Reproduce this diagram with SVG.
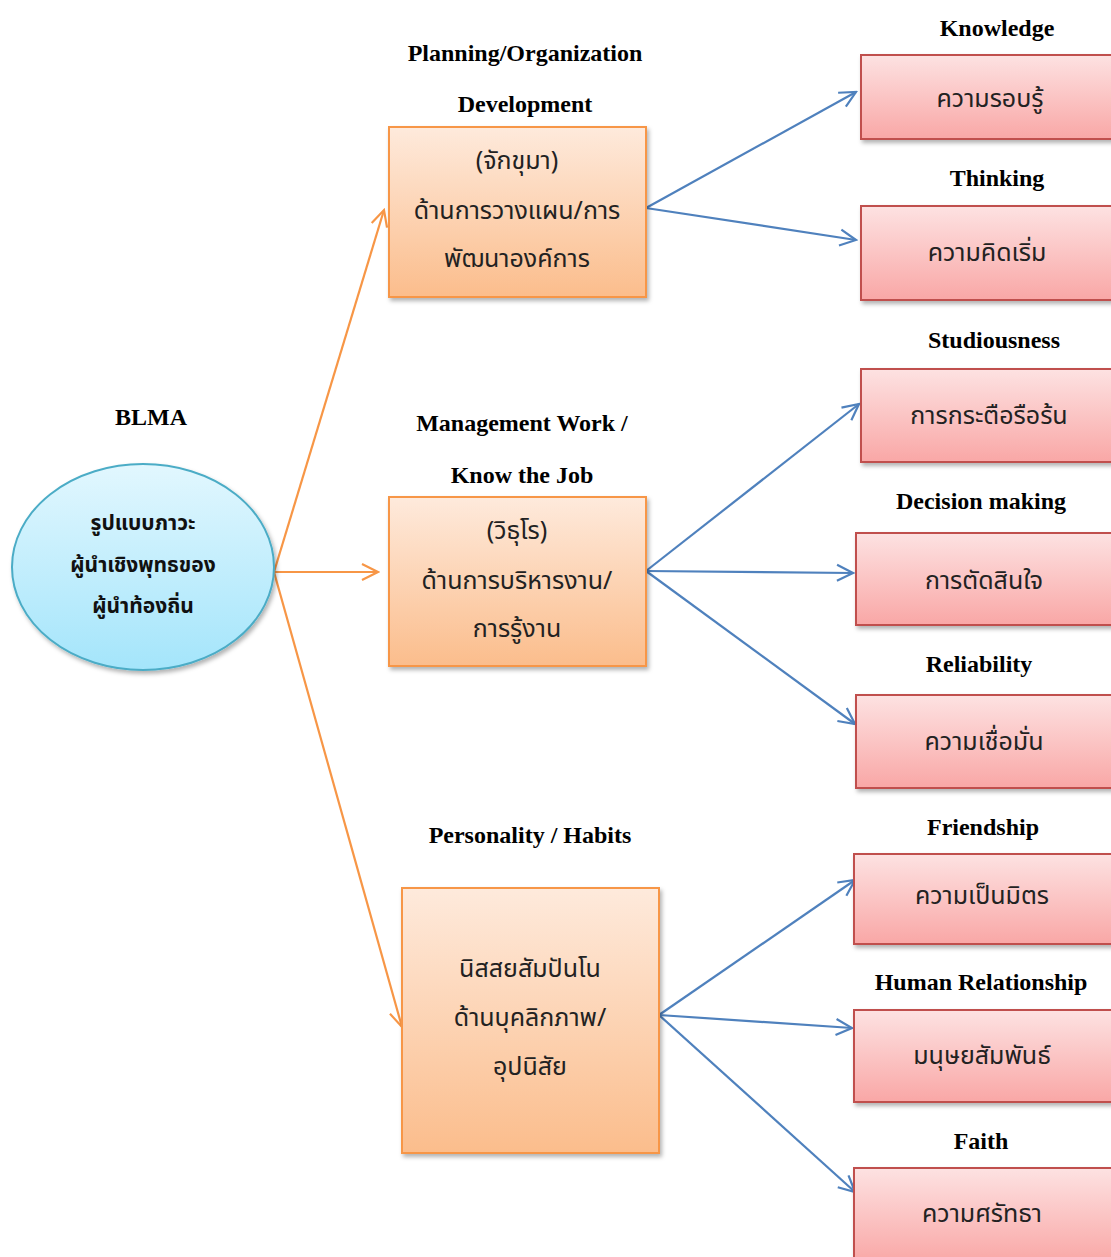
<svg xmlns="http://www.w3.org/2000/svg" width="1111" height="1257" viewBox="0 0 1111 1257">
<style>
.lbl{font-family:"Liberation Serif","Times New Roman",serif;font-weight:bold;font-size:24px;fill:#000;text-anchor:middle}
.th{font-family:"Noto Sans","Noto Sans Thai",sans-serif;font-size:25px;fill:#222;text-anchor:middle}
.thb{font-family:"Noto Sans","Noto Sans Thai",sans-serif;font-size:21px;font-weight:bold;fill:#111;text-anchor:middle}
.ob{fill:url(#og);stroke:#f79646;stroke-width:2;filter:url(#sh)}
.pb{fill:url(#pg);stroke:#c0504d;stroke-width:2;filter:url(#sh)}
.oc{stroke:#f79646;stroke-width:2.2;fill:none;marker-end:url(#ao)}
.bc{stroke:#4f81bd;stroke-width:2.2;fill:none;marker-end:url(#ab)}
</style>
<defs>
<linearGradient id="og" x1="0" y1="0" x2="0" y2="1"><stop offset="0" stop-color="#feeadc"/><stop offset="1" stop-color="#fbbd8c"/></linearGradient>
<linearGradient id="pg" x1="0" y1="0" x2="0" y2="1"><stop offset="0" stop-color="#fde2e2"/><stop offset="1" stop-color="#f9a7a6"/></linearGradient>
<linearGradient id="eg" x1="0" y1="0" x2="0" y2="1"><stop offset="0" stop-color="#e2f7fe"/><stop offset="1" stop-color="#a4e5fb"/></linearGradient>
<filter id="sh" x="-10%" y="-10%" width="125%" height="125%"><feDropShadow dx="2" dy="3" stdDeviation="2" flood-color="#000" flood-opacity="0.3"/></filter>
<marker id="ao" viewBox="0 0 20 20" refX="18" refY="10" markerWidth="20" markerHeight="20" markerUnits="userSpaceOnUse" orient="auto"><path d="M2,2 L18,10 L2,18" fill="none" stroke="#f79646" stroke-width="2.2"/></marker>
<marker id="ab" viewBox="0 0 20 20" refX="18" refY="10" markerWidth="20" markerHeight="20" markerUnits="userSpaceOnUse" orient="auto"><path d="M2,2 L18,10 L2,18" fill="none" stroke="#4f81bd" stroke-width="2.2"/></marker>
</defs>
<rect width="1111" height="1257" fill="#fff"/>

<g id="connectors">
<line class="oc" x1="274" y1="572" x2="384" y2="210"/>
<line class="oc" x1="274" y1="572" x2="378" y2="572"/>
<line class="oc" x1="274" y1="572" x2="402" y2="1027"/>
<line class="bc" x1="646" y1="208" x2="856" y2="92"/>
<line class="bc" x1="646" y1="208" x2="856" y2="240"/>
<line class="bc" x1="646" y1="571" x2="859" y2="404"/>
<line class="bc" x1="646" y1="571" x2="853" y2="573"/>
<line class="bc" x1="646" y1="571" x2="855" y2="724"/>
<line class="bc" x1="659" y1="1015" x2="855" y2="880"/>
<line class="bc" x1="659" y1="1015" x2="852" y2="1028"/>
<line class="bc" x1="659" y1="1015" x2="855" y2="1192"/>
</g>

<g id="blma">
<text class="lbl" x="151" y="425">BLMA</text>
<ellipse cx="143" cy="567" rx="131" ry="103" fill="url(#eg)" stroke="#4bacc6" stroke-width="2" filter="url(#sh)"/>
<text class="thb" x="143" y="530">รูปแบบภาวะ</text>
<text class="thb" x="143" y="572">ผู้นำเชิงพุทธของ</text>
<text class="thb" x="143" y="613">ผู้นำท้องถิ่น</text>
</g>

<g id="planning">
<text class="lbl" x="525" y="61">Planning/Organization</text>
<text class="lbl" x="525" y="112">Development</text>
<rect class="ob" x="389" y="127" width="257" height="170"/>
<text class="th" x="517" y="169">(จักขุมา)</text>
<text class="th" x="517" y="219">ด้านการวางแผน/การ</text>
<text class="th" x="517" y="267">พัฒนาองค์การ</text>
</g>

<g id="management">
<text class="lbl" x="522" y="431">Management Work /</text>
<text class="lbl" x="522" y="483">Know the Job</text>
<rect class="ob" x="389" y="497" width="257" height="169"/>
<text class="th" x="517" y="539">(วิธุโร)</text>
<text class="th" x="517" y="589">ด้านการบริหารงาน/</text>
<text class="th" x="517" y="637">การรู้งาน</text>
</g>

<g id="personality">
<text class="lbl" x="530" y="843">Personality / Habits</text>
<rect class="ob" x="402" y="888" width="257" height="265"/>
<text class="th" x="530" y="977">นิสสยสัมปันโน</text>
<text class="th" x="530" y="1026">ด้านบุคลิกภาพ/</text>
<text class="th" x="530" y="1075">อุปนิสัย</text>
</g>

<g id="knowledge">
<text class="lbl" x="997" y="36">Knowledge</text>
<rect class="pb" x="861" y="55" width="252" height="84"/>
<text class="th" x="990" y="107">ความรอบรู้</text>
</g>

<g id="thinking">
<text class="lbl" x="997" y="186">Thinking</text>
<rect class="pb" x="861" y="206" width="252" height="94"/>
<text class="th" x="987" y="261">ความคิดเริ่ม</text>
</g>

<g id="studiousness">
<text class="lbl" x="994" y="348">Studiousness</text>
<rect class="pb" x="861" y="369" width="252" height="93"/>
<text class="th" x="989" y="424">การกระตือรือร้น</text>
</g>

<g id="decision">
<text class="lbl" x="981" y="509">Decision making</text>
<rect class="pb" x="856" y="533" width="257" height="92"/>
<text class="th" x="984" y="589">การตัดสินใจ</text>
</g>

<g id="reliability">
<text class="lbl" x="979" y="672">Reliability</text>
<rect class="pb" x="856" y="695" width="257" height="93"/>
<text class="th" x="984" y="750">ความเชื่อมั่น</text>
</g>

<g id="friendship">
<text class="lbl" x="983" y="835">Friendship</text>
<rect class="pb" x="854" y="854" width="259" height="90"/>
<text class="th" x="982" y="904">ความเป็นมิตร</text>
</g>

<g id="human">
<text class="lbl" x="981" y="990">Human Relationship</text>
<rect class="pb" x="854" y="1010" width="259" height="92"/>
<text class="th" x="982" y="1064">มนุษยสัมพันธ์</text>
</g>

<g id="faith">
<text class="lbl" x="981" y="1149">Faith</text>
<rect class="pb" x="854" y="1168" width="259" height="95"/>
<text class="th" x="982" y="1222">ความศรัทธา</text>
</g>
</svg>
